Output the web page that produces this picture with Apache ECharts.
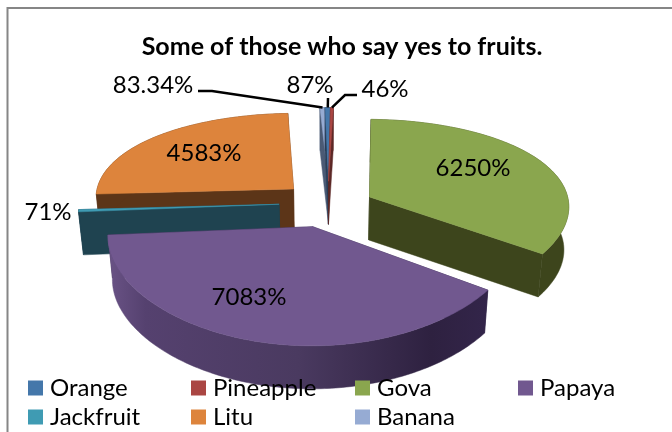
<!DOCTYPE html>
<html>
<head>
<meta charset="utf-8">
<style>html,body{margin:0;padding:0;background:#fff}#chart{width:672px;height:432px}</style>
<script src="https://cdn.jsdelivr.net/npm/echarts@6/dist/echarts.min.js"></script>
</head>
<body>
<div id="chart"></div>
<script>
// Survey values, in legend order
const fruits = ['Orange', 'Pineapple', 'Gova', 'Papaya', 'Jackfruit', 'Litu', 'Banana'];
const shares = [87, 46, 6250, 7083, 71, 4583, 83.34];
const topColors = ['#4477aa', '#aa4643', '#8aa64e', '#71588f', '#3f9bb3', '#dd843c', '#96abd3'];
const wallColors = ['#2b3f58', '#5c2826', '#3d451c', '#33254a', '#1f4350', '#5c3518', '#4a5a75'];
// How far each slice is pulled out of the disc, across and into the depth
const pullX = [0.018, 0.018, 0.225, -0.06, -0.23, -0.16, 0.018];
const pullZ = [0.29, 0.29, 0.11, -0.205, 0.03, 0.2, 0.29];
const drawOrder = [5, 2, 6, 0, 1, 4, 3];

// Projection of the tilted disc
const CX = 325, CY = 207, RX = 200, RY = 93, PERSP_Y = 0.16, PERSP_X = 0.09, DEPTH = 43, START = -1;
const total = shares.reduce((a, b) => a + b, 0);

function project(X, Z, down) {
  return [
    CX + RX * X / (1 + PERSP_X * Z) * (1 - 0.02 * down),
    CY - RY * Z / (1 + PERSP_Y * Z) + DEPTH * down
  ];
}
function sliceGeometry(i) {
  const before = shares.slice(0, i).reduce((a, b) => a + b, 0);
  const a0 = (START + before / total * 360) * Math.PI / 180;
  const a1 = (START + (before + shares[i]) / total * 360) * Math.PI / 180;
  const ox = pullX[i], oz = pullZ[i];
  const steps = Math.max(4, Math.ceil((a1 - a0) * 60));
  const arc = down => {
    const pts = [];
    for (let n = 0; n <= steps; n++) {
      const a = a0 + (a1 - a0) * n / steps;
      pts.push(project(ox + Math.sin(a), oz + Math.cos(a), down));
    }
    return pts;
  };
  return { top: arc(0), bottom: arc(1), apexTop: project(ox, oz, 0), apexBottom: project(ox, oz, 1) };
}

// Label text placed beside or on its slice; slivers get a leader line
const labelAt = {
  Orange: [310, 85], Pineapple: [385, 89], Gova: [473, 168], Papaya: [249, 297],
  Jackfruit: [48, 212], Litu: [204, 153], Banana: [153, 85]
};
const leaders = {
  Orange: [[328, 98]],
  Pineapple: [[357, 95], [345, 95]],
  Banana: [[198, 91], [212, 91]]
};

function wallFill(i) {
  if (fruits[i] !== 'Papaya') return wallColors[i];
  return new echarts.graphic.LinearGradient(0, 0, 1, 0, [
    { offset: 0, color: '#6a5386' }, { offset: 0.1, color: '#55416f' },
    { offset: 0.5, color: '#4a3a60' }, { offset: 0.85, color: '#2e2140' },
    { offset: 1, color: '#33254a' }
  ]);
}

function renderSlice(i) {
  return function (params, api) {
    const value = api.value(0);
    const g = sliceGeometry(i);
    const poly = (points, fill) => ({
      type: 'polygon', shape: { points },
      style: { fill, stroke: fill, lineWidth: 0.5 }
    });
    const last = g.top.length - 1;
    const children = [
      poly([g.apexTop, g.apexBottom, g.bottom[0], g.top[0]], wallColors[i]),
      poly([g.apexTop, g.apexBottom, g.bottom[last], g.top[last]], wallColors[i]),
      poly(g.top.concat(g.bottom.slice().reverse()), wallFill(i)),
      poly([g.apexTop].concat(g.top), topColors[i])
    ];
    const name = fruits[i];
    if (leaders[name]) {
      const rim = g.top[Math.floor(last / 2)];
      children.push({
        type: 'polyline',
        shape: { points: leaders[name].concat([[rim[0], rim[1]]]) },
        style: { fill: null, stroke: '#000', lineWidth: 2.5 }
      });
    }
    children.push({
      type: 'text',
      style: {
        text: value + '%', x: labelAt[name][0], y: labelAt[name][1],
        align: 'center', verticalAlign: 'middle',
        fontFamily: 'Lato', fontSize: 24, fill: '#000'
      }
    });
    return { type: 'group', children };
  };
}

// Legend entries sit on a fixed four-column grid
const legendLeft = [28, 191, 355, 518, 28, 191, 355];
const legendTop = [376, 376, 376, 376, 405, 405, 405];
const chart = echarts.init(document.getElementById('chart'), null, { renderer: 'canvas' });
chart.setOption({
  animation: false,
  title: {
    text: 'Some of those who say yes to fruits.',
    left: 337, top: 29, textAlign: 'center',
    textStyle: { fontFamily: 'Lato', fontWeight: 'bold', fontSize: 25, color: '#000' }
  },
  legend: fruits.map((name, i) => ({
    left: legendLeft[i], top: legendTop[i], padding: 0,
    itemWidth: 15, itemHeight: 15, icon: 'rect', selectedMode: false, z: 10,
    textStyle: { fontFamily: 'Lato', fontSize: 24, lineHeight: 15, color: '#000', padding: [0, 0, 0, 2] },
    data: [{ name, itemStyle: { color: topColors[i] } }]
  })),
  graphic: [{
    type: 'rect', silent: true, z: -1,
    shape: { x: 7.5, y: 8, width: 680, height: 440 },
    style: { fill: null, stroke: '#868686', lineWidth: 2 }
  }],
  series: fruits.map((name, i) => ({
    type: 'custom', name, coordinateSystem: 'none', silent: true,
    z: 2 + drawOrder.indexOf(i),
    itemStyle: { color: topColors[i] },
    renderItem: renderSlice(i),
    data: [[shares[i]]]
  }))
});
</script>
</body>
</html>
